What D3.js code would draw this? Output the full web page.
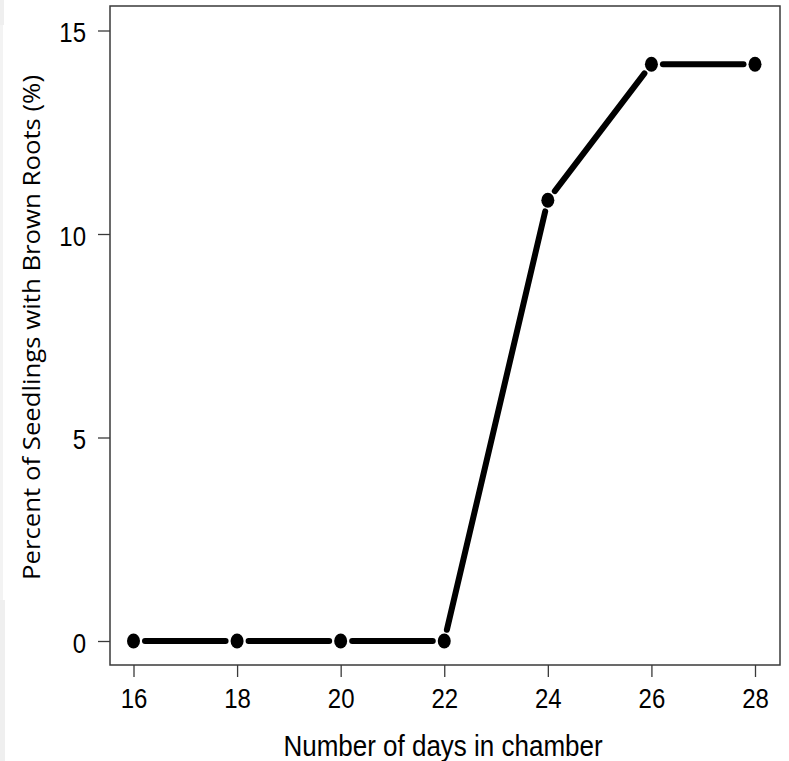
<!DOCTYPE html>
<html>
<head>
<meta charset="utf-8">
<script src="https://cdn.jsdelivr.net/npm/d3@7"></script>
<style>
  html, body { margin: 0; padding: 0; background: #fff; }
  svg { display: block; }
</style>
</head>
<body>
<svg id="chart" width="789" height="761"></svg>
<script>
// Days spent in the growth chamber and share of seedlings showing brown roots
const days = [16, 18, 20, 22, 24, 26, 28];
const percentBrown = [0, 0, 0, 0, 10.83, 14.17, 14.17];
const xTickValues = [16, 18, 20, 22, 24, 26, 28];
const yTickValues = [0, 5, 10, 15];
const xTitle = "Number of days in chamber";
const yTitle = "Percent of Seedlings with Brown Roots (%)";

const W = 789, H = 761;
const box = { left: 110, top: 6, right: 780, bottom: 665 };

const svg = d3.select("#chart");

// faint strip along the left edge of the page
svg.append("rect").attr("x", 0).attr("y", 0).attr("width", 4).attr("height", 25).attr("fill", "#efefef");
svg.append("rect").attr("x", 0).attr("y", 25).attr("width", 3).attr("height", 575).attr("fill", "#f3f3f3");
svg.append("rect").attr("x", 0).attr("y", 600).attr("width", 5).attr("height", 161).attr("fill", "#efefef");

const x = d3.scaleLinear().domain([16, 28]).range([133.5, 755]);
const y = d3.scaleLinear().domain([0, 15]).range([641, 30.5]);

const frameColor = "#3a3a3a";
const tickFont = "'Liberation Sans', Arial, sans-serif";

// plot frame
svg.append("rect")
  .attr("x", box.left).attr("y", box.top)
  .attr("width", box.right - box.left).attr("height", box.bottom - box.top)
  .attr("fill", "none").attr("stroke", frameColor).attr("stroke-width", 1.5);

// x axis
const gx = svg.append("g").attr("transform", `translate(0,${box.bottom})`)
  .call(d3.axisBottom(x).tickValues(xTickValues).tickSize(12).tickSizeOuter(0).tickPadding(0).tickFormat(d3.format("d")));
gx.select(".domain").remove();
gx.selectAll(".tick line").attr("stroke", frameColor).attr("stroke-width", 1.3);
gx.selectAll(".tick text")
  .attr("y", 0).attr("dy", null)
  .attr("transform", "translate(0,43) scale(1,1.15)")
  .attr("fill", "#000")
  .style("font-family", tickFont).style("font-size", "24px");

// y axis
const gy = svg.append("g").attr("transform", `translate(${box.left},0)`)
  .call(d3.axisLeft(y).tickValues(yTickValues).tickSize(12).tickSizeOuter(0).tickPadding(0).tickFormat(d3.format("d")));
gy.select(".domain").remove();
gy.selectAll(".tick line").attr("stroke", frameColor).attr("stroke-width", 1.3);
gy.selectAll(".tick text")
  .attr("x", 0).attr("dy", null)
  .attr("transform", "translate(-24,11) scale(1,1.15)")
  .attr("fill", "#000")
  .style("font-family", tickFont).style("font-size", "24px");

// axis titles
svg.append("text")
  .attr("transform", "translate(443,756) scale(1,1.17)")
  .attr("text-anchor", "middle")
  .attr("fill", "#000")
  .style("font-family", tickFont).style("font-size", "26px")
  .text(xTitle);

svg.append("text")
  .attr("transform", "translate(40,327.5) rotate(-90)")
  .attr("text-anchor", "middle")
  .attr("fill", "#000")
  .attr("textLength", 505).attr("lengthAdjust", "spacingAndGlyphs")
  .style("font-family", "'Open Sans', 'Noto Sans', sans-serif").style("font-size", "24px")
  .text(yTitle);

// points and gapped connecting segments
const pts = days.map((d, i) => [x(d), y(percentBrown[i])]);
const gap = 11.5;
const segs = d3.pairs(pts).map(([a, b]) => {
  const dx = b[0] - a[0], dy = b[1] - a[1];
  const len = Math.hypot(dx, dy);
  const ux = dx / len, uy = dy / len;
  return [a[0] + ux * gap, a[1] + uy * gap, b[0] - ux * gap, b[1] - uy * gap];
});

svg.append("g").selectAll("line").data(segs).join("line")
  .attr("x1", d => d[0]).attr("y1", d => d[1])
  .attr("x2", d => d[2]).attr("y2", d => d[3])
  .attr("stroke", "#000").attr("stroke-width", 6).attr("stroke-linecap", "round");

svg.append("g").selectAll("ellipse").data(pts).join("ellipse")
  .attr("cx", d => d[0]).attr("cy", d => d[1])
  .attr("rx", 6.5).attr("ry", 7.5)
  .attr("fill", "#000");
</script>
</body>
</html>
